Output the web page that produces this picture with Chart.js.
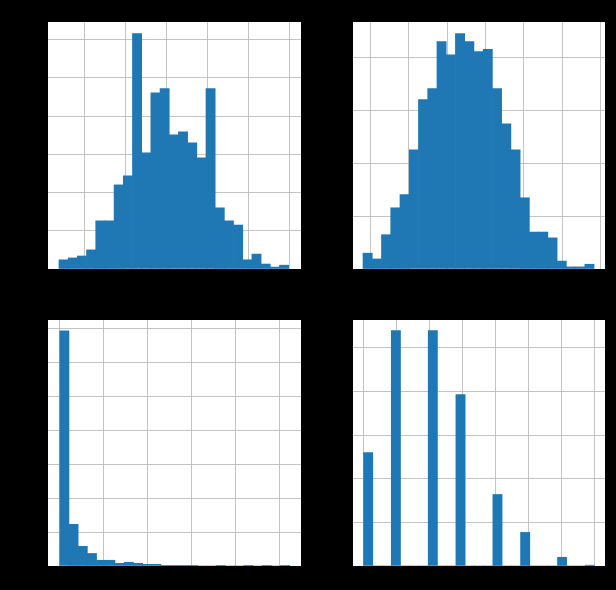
<!DOCTYPE html>
<html>
<head>
<meta charset="utf-8">
<script src="https://cdn.jsdelivr.net/npm/chart.js@4.4.1/dist/chart.umd.min.js"></script>
<style>
  html, body { margin: 0; padding: 0; background: #000; }
  body { width: 616px; height: 590px; position: relative; overflow: hidden; }
  .plot { position: absolute; background: #fff; }
</style>
</head>
<body>
<div class="plot" style="left:48px;top:22px;width:253px;height:247px"><canvas id="h1"></canvas></div>
<div class="plot" style="left:353px;top:22px;width:252px;height:247px"><canvas id="h2"></canvas></div>
<div class="plot" style="left:48px;top:320px;width:253px;height:246px"><canvas id="h3"></canvas></div>
<div class="plot" style="left:353px;top:320px;width:252px;height:246px"><canvas id="h4"></canvas></div>
<script>
// histogram counts (25 bins each)
const counts1 = [0.24, 0.29, 0.34, 0.5, 1.26, 1.26, 2.2, 2.44, 6.16, 3.04, 4.61, 4.72, 3.51,
                 3.59, 3.3, 2.91, 4.72, 1.6, 1.26, 1.15, 0.24, 0.39, 0.13, 0.05, 0.1];
const counts2 = [0.3, 0.19, 0.65, 1.16, 1.41, 2.26, 3.21, 3.42, 4.31, 4.06, 4.46, 4.31, 4.12,
                 4.16, 3.42, 2.75, 2.26, 1.35, 0.7, 0.7, 0.59, 0.15, 0.04, 0.04, 0.09];
const counts3 = [6.94, 1.23, 0.58, 0.37, 0.17, 0.17, 0.08, 0.11, 0.08, 0.05, 0.05, 0.02, 0.02,
                 0.02, 0.02, 0, 0, 0.02, 0, 0, 0.02, 0, 0.02, 0, 0.02];
const counts4 = [2.6, 0, 0, 5.4, 0, 0, 0, 5.4, 0, 0, 3.93, 0, 0, 0, 1.64, 0, 0, 0.77, 0, 0,
                 0, 0.2, 0, 0, 0.02];

// bin edges: first edge and bin width
const bins1 = { start: -0.626, width: 0.2244 };
const bins2 = { start: -0.2, width: 0.2414 };
const bins3 = { start: 0.01, width: 0.209 };
const bins4 = { start: 0, width: 0.28 };

// axis ranges
const xRange1 = [-0.894, 5.285], yMax1 = 6.46;
const xRange2 = [-0.461, 6.12], yMax2 = 4.68;
const xRange3 = [-0.257, 5.49], yMax3 = 7.26;
const xRange4 = [-0.32, 7.32], yMax4 = 5.64;

function axis(min, max) {
    return {
        type: 'linear', min, max, z: 1, offset: false,
        ticks: { display: false, stepSize: 1, includeBounds: false },
        grid: { color: 'rgba(176,176,176,0.75)', lineWidth: 1, tickLength: 0, offset: false },
        border: { display: false }
    };
}

function histogram(id, counts, bins, xRange, yMax) {
    const data = counts.map((c, i) => ({ x: bins.start + bins.width * (i + 0.5), y: c }));
    new Chart(document.getElementById(id), {
        type: 'bar',
        data: { datasets: [{ data, backgroundColor: '#1f77b4', barPercentage: 1, categoryPercentage: 1, borderWidth: 0 }] },
        options: {
            responsive: true,
            maintainAspectRatio: false,
            animation: false,
            layout: { padding: 0 },
            plugins: { legend: { display: false }, tooltip: { enabled: false } },
            scales: { x: axis(xRange[0], xRange[1]), y: axis(0, yMax) }
        }
    });
}

histogram('h1', counts1, bins1, xRange1, yMax1);
histogram('h2', counts2, bins2, xRange2, yMax2);
histogram('h3', counts3, bins3, xRange3, yMax3);
histogram('h4', counts4, bins4, xRange4, yMax4);
</script>
</body>
</html>
